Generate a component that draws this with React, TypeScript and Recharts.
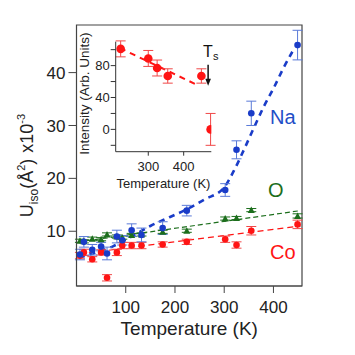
import { ComposedChart, Scatter, Line, XAxis, YAxis, ErrorBar, ReferenceArea, ReferenceDot } from "recharts";

// main panel: temperatures (K) and Uiso x10^-3 (Å^2)
const temps = [7, 15, 32, 50, 62, 82, 93, 112, 132, 175, 224, 302, 325, 355, 449];
const naVals = [5.6, 8.0, 6.5, 7.1, 5.8, 9.0, 8.3, 10.2, 9.3, 10.6, 13.9, 17.8, 25.4, 32.3, 45.2];
const naErr = [1.0, 1.0, 1.0, 0.8, 1.2, 1.2, 0.9, 1.2, 1.3, 1.2, 1.0, 1.2, 1.7, 2.3, 2.8];
const oVals = [8.2, 8.1, 8.6, 8.5, 9.4, 9.0, 8.8, 9.3, 9.4, 9.9, 10.1, 12.4, 12.5, 14.0, 12.9];
const oErr = [0.3, 0.3, 0.3, 0.3, 0.3, 0.3, 0.3, 0.3, 0.3, 0.3, 0.3, 0.3, 0.3, 0.3, 0.4];
const coVals = [5.4, 6.0, 4.7, 6.0, 1.2, 6.0, 7.3, 7.3, 7.3, 7.5, 8.0, 8.5, 7.4, 10.1, 11.3];
const coErr = [0.6, 0.6, 0.5, 0.5, 0.6, 0.6, 0.6, 0.6, 0.6, 0.5, 0.5, 0.6, 0.6, 0.8, 0.8];

// dashed guide curves
const naFitT = [5, 40, 75, 110, 150, 190, 225, 260, 300, 320, 340, 360, 380, 400, 420, 440];
const naFitV = [5.0, 6.0, 7.2, 8.9, 11.0, 12.7, 14.2, 16.0, 18.3, 21.5, 25.4, 29.5, 33.5, 37.0, 40.8, 44.2];
const oFitT = [5, 455];
const oFitV = [8.0, 13.9];
const coFitT = [5, 455];
const coFitV = [5.7, 11.0];

// inset: intensity vs temperature
const intT = [222, 300, 325, 355, 450, 476];
const intVals = [101, 89, 77, 67, 67, 0];
const intErr = [10, 10, 10, 9, 9, 20];
const intFitT = [220, 437];
const intFitV = [102, 56];

const mainXTicks = [100, 200, 300, 400];
const mainYTicks = [10, 20, 30, 40];
const insetXTicks = [300, 400];
const insetYTicks = [-20, 0, 20, 40, 60, 80, 100];

const FONT = "'Liberation Sans', Arial, sans-serif";
const NA = "#1a3cc8";
const NA_ERR = "#5a7ad8";
const OX = "#1c6e1c";
const CO = "#ff1414";
const CO_ERR = "#f04848";

const pts = (xs: number[], ys: number[], es?: number[]) =>
  xs.map((t, i) => ({ t, v: ys[i], e: es ? es[i] : 0 }));

const dot = (r: number, fill: string) => (p: any) =>
  <circle cx={p.cx} cy={p.cy} r={r} fill={fill} />;

const tri = (fill: string) => (p: any) =>
  <polygon points={`${p.cx - 3.5},${p.cy + 3} ${p.cx + 3.5},${p.cy + 3} ${p.cx},${p.cy - 3.5}`} fill={fill} />;

const tag = (text: string, color: string) => (p: any) => (
  <text x={p.cx} y={p.cy} textAnchor="middle" dominantBaseline="central" fill={color} fontSize={20} fontFamily={FONT}>
    {text}
  </text>
);

const MainYLabel = (props: any) => {
  const vb = props.viewBox;
  const x = vb.x + 33;
  const y = vb.y + vb.height / 2 + 10;
  return (
    <text x={x} y={y} transform={`rotate(-90, ${x}, ${y})`} textAnchor="middle" fontSize={18} fontFamily={FONT} fill="#222">
      U<tspan fontSize={12} dy={5}>iso</tspan>
      <tspan dy={-5}>(Å</tspan>
      <tspan fontSize={11} dy={-8}>2</tspan>
      <tspan dy={8}>)</tspan>
      <tspan dx={6}>x10</tspan>
      <tspan fontSize={11} dy={-8}>-3</tspan>
    </text>
  );
};

const MainXLabel = (props: any) => {
  const vb = props.viewBox;
  return (
    <text x={vb.x + vb.width / 2} y={vb.y + 49} textAnchor="middle" fontSize={19} fontFamily={FONT} fill="#222">
      Temperature (K)
    </text>
  );
};

const InsetXLabel = (props: any) => {
  const vb = props.viewBox;
  return (
    <text x={vb.x + vb.width / 2} y={vb.y + 36} textAnchor="middle" fontSize={13} fontFamily={FONT} fill="#222">
      Temperature (K)
    </text>
  );
};

const InsetYLabel = (props: any) => {
  const vb = props.viewBox;
  const x = vb.x + 29;
  const y = vb.y + vb.height / 2 - 3;
  return (
    <text x={x} y={y} transform={`rotate(-90, ${x}, ${y})`} textAnchor="middle" fontSize={13.5} fontFamily={FONT} fill="#222">
      Intensity (Arb. Units)
    </text>
  );
};

const TsArrow = (p: any) => (
  <g>
    <text x={p.cx - 5} y={p.cy - 8} fontSize={16} fontFamily={FONT} fill="#111">
      T<tspan fontSize={11} dy={3}>s</tspan>
    </text>
    <line x1={p.cx} y1={p.cy} x2={p.cx} y2={p.cy + 16} stroke="#111" strokeWidth={1.5} />
    <polygon points={`${p.cx - 2.8},${p.cy + 14} ${p.cx + 2.8},${p.cy + 14} ${p.cx},${p.cy + 21}`} fill="#111" />
  </g>
);

export default function App() {
  const tickStyle = { fontSize: 17, fontFamily: FONT, fill: "#222" };
  const insetTick = { fontSize: 13, fontFamily: FONT, fill: "#222" };
  return (
    <div style={{ position: "absolute", left: 0, top: 0, width: 355, height: 355, background: "#fff" }}>
      <div style={{ position: "absolute", left: 0, top: 0 }}>
        <ComposedChart width={355} height={355} margin={{ top: 25, right: 53, bottom: 0, left: 0 }}>
          <XAxis
            dataKey="t"
            type="number"
            domain={[0, 458]}
            ticks={mainXTicks}
            height={69}
            tickSize={7}
            tickMargin={8}
            tick={tickStyle}
            stroke="#444"
            allowDataOverflow
            label={<MainXLabel />}
          />
          <YAxis
            type="number"
            domain={[-0.35, 49]}
            ticks={mainYTicks}
            width={76.5}
            tickSize={8}
            tickMargin={3}
            tick={tickStyle}
            stroke="#444"
            allowDataOverflow
            label={<MainYLabel />}
          />
          <ReferenceArea x1={0} x2={458} y1={-0.35} y2={49} fill="none" stroke="#444" strokeWidth={1.2} ifOverflow="visible" />
          <Line data={pts(oFitT, oFitV)} dataKey="v" stroke={OX} strokeWidth={1.2} strokeDasharray="5 3" dot={false} isAnimationActive={false} />
          <Line data={pts(coFitT, coFitV)} dataKey="v" stroke={CO} strokeWidth={1.2} strokeDasharray="6 4" dot={false} isAnimationActive={false} />
          <Line data={pts(naFitT, naFitV)} type="monotone" dataKey="v" stroke={NA} strokeWidth={2.6} strokeDasharray="6 5" dot={false} isAnimationActive={false} />
          <Scatter data={pts(temps, oVals, oErr)} dataKey="v" shape={tri(OX)} isAnimationActive={false}>
            <ErrorBar dataKey="e" direction="y" width={5} stroke={OX} strokeWidth={1} />
          </Scatter>
          <Scatter data={pts(temps, coVals, coErr)} dataKey="v" shape={dot(3.3, CO)} isAnimationActive={false}>
            <ErrorBar dataKey="e" direction="y" width={5} stroke={CO_ERR} strokeWidth={1} />
          </Scatter>
          <Scatter data={pts(temps, naVals, naErr)} dataKey="v" shape={dot(3.3, NA)} isAnimationActive={false}>
            <ErrorBar dataKey="e" direction="y" width={5} stroke={NA_ERR} strokeWidth={1} />
          </Scatter>
          <ReferenceDot x={419} y={31.6} r={0} shape={tag("Na", "#1f4fc7")} />
          <ReferenceDot x={405} y={17.8} r={0} shape={tag("O", OX)} />
          <ReferenceDot x={419} y={6.1} r={0} shape={tag("Co", CO)} />
        </ComposedChart>
      </div>
      <div style={{ position: "absolute", left: 60, top: 30 }}>
        <ComposedChart width={160} height={170} margin={{ top: 11.7, right: 8.7, bottom: 0, left: 0 }}>
          <XAxis
            dataKey="t"
            type="number"
            domain={[208, 478]}
            ticks={insetXTicks}
            height={48.3}
            tickSize={4}
            tickMargin={6}
            tick={insetTick}
            stroke="#333"
            allowDataOverflow
            label={<InsetXLabel />}
          />
          <YAxis
            type="number"
            domain={[-28, 110]}
            ticks={insetYTicks}
            tickFormatter={(v: number) => (v % 40 === 0 ? String(v) : "")}
            width={55.7}
            tickSize={5}
            tickMargin={1}
            tick={insetTick}
            stroke="#333"
            allowDataOverflow
            label={<InsetYLabel />}
          />
          <Line data={pts(intFitT, intFitV)} dataKey="v" stroke={CO} strokeWidth={2} strokeDasharray="6 5" dot={false} isAnimationActive={false} />
          <Scatter data={pts(intT, intVals, intErr)} dataKey="v" shape={dot(4.3, CO)} isAnimationActive={false}>
            <ErrorBar dataKey="e" direction="y" width={5} stroke={CO_ERR} strokeWidth={1} />
          </Scatter>
          <ReferenceDot x={469} y={81} r={0} shape={TsArrow} />
        </ComposedChart>
      </div>
    </div>
  );
}
